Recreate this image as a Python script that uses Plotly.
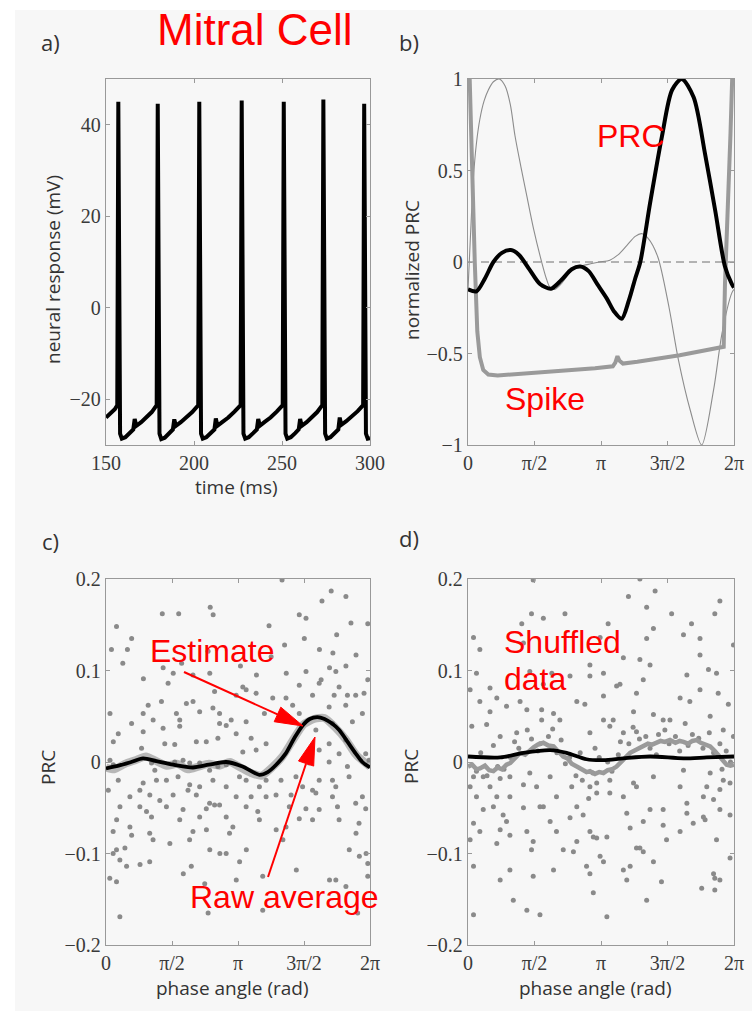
import math
import plotly.graph_objects as go

W, H = 752, 1011
PI = math.pi

# ---------------- Panel a: membrane potential trace ----------------
a_time = [150.0, 152.5, 155.0, 156.4,
          157.0, 158.0, 159.0, 161.0, 163.5, 165.5, 166.3, 167.2, 170.0, 173.0, 176.0, 178.8,
          179.4, 180.4, 181.4, 183.4, 185.9, 188.0, 188.8, 189.7, 192.5, 195.5, 199.0, 202.4,
          203.0, 204.0, 205.0, 207.0, 209.5, 211.6, 212.4, 213.3, 216.0, 219.5, 223.0, 226.5,
          227.1, 228.1, 229.1, 231.1, 233.6, 235.7, 236.5, 237.4, 240.0, 243.5, 247.0, 250.4,
          251.0, 252.0, 253.0, 255.0, 257.5, 259.5, 260.3, 261.2, 264.0, 267.0, 270.0, 272.9,
          273.5, 274.5, 275.5, 277.5, 280.0, 282.0, 282.8, 283.7, 286.5, 289.5, 293.0, 296.1,
          296.7, 297.7, 298.7, 300.0]
a_volt = [-24.0, -23.2, -22.2, -21.3,
          45.0, -27.5, -28.6, -28.3, -27.4, -26.6, -24.3, -25.8, -25.0, -24.0, -22.8, -21.3,
          44.6, -27.5, -28.7, -28.4, -27.5, -26.6, -24.4, -25.8, -25.0, -24.0, -22.8, -21.3,
          45.0, -27.5, -28.6, -28.3, -27.4, -26.6, -24.2, -25.8, -25.0, -24.0, -22.7, -21.3,
          45.3, -27.5, -28.6, -28.3, -27.4, -26.6, -24.3, -25.8, -25.0, -24.0, -22.7, -21.3,
          45.0, -27.5, -28.6, -28.3, -27.4, -26.6, -24.3, -25.8, -25.0, -24.0, -22.8, -21.3,
          45.5, -27.5, -28.6, -28.3, -27.4, -26.6, -24.0, -25.6, -24.8, -23.8, -22.6, -21.3,
          44.6, -27.5, -28.6, -28.5]

# ---------------- Panel b: normalized PRC / spike ----------------
b_prc_phase = [0.0, 0.2, 0.4, 0.6, 0.8, 1.01, 1.2, 1.45, 1.7, 1.96, 2.2, 2.45, 2.65, 2.85, 3.05,
               3.28, 3.45, 3.63, 3.8, 3.95, 4.07, 4.3, 4.58, 4.82, 5.05, 5.33, 5.6, 5.84, 6.07,
               6.23, 6.283]
b_prc = [-0.15, -0.16, -0.09, 0.0, 0.05, 0.065, 0.04, -0.04, -0.12, -0.146, -0.1, -0.04, -0.025,
         -0.05, -0.12, -0.2, -0.27, -0.31, -0.21, -0.09, 0.0, 0.32, 0.685, 0.94, 1.0, 0.9, 0.59,
         0.28, -0.025, -0.12, -0.14]

b_thin_phase = [0.0, 0.06, 0.125, 0.2, 0.28, 0.38, 0.48, 0.6, 0.74, 0.88, 1.0, 1.11, 1.25, 1.39,
                1.55, 1.74, 1.85, 1.94, 2.05, 2.2, 2.4, 2.55, 2.7, 2.9, 3.1, 3.35, 3.55, 3.75,
                3.95, 4.1, 4.25, 4.48, 4.75, 4.97, 5.25, 5.52, 5.8, 6.0, 6.23, 6.283]
b_thin = [-0.15, 0.15, 0.45, 0.65, 0.78, 0.88, 0.94, 0.985, 1.0, 0.96, 0.86, 0.69, 0.52, 0.36,
          0.18, 0.0, -0.09, -0.14, -0.15, -0.12, -0.06, -0.03, -0.02, -0.01, 0.0, 0.01, 0.04,
          0.09, 0.14, 0.155, 0.13, 0.03, -0.25, -0.535, -0.81, -1.0, -0.70, -0.39, -0.17, -0.15]

b_spike_phase = [0.04, 0.1, 0.16, 0.22, 0.28, 0.36, 0.48, 0.7, 1.0, 2.0, 3.0, 3.42, 3.48, 3.53,
                 3.58, 3.66, 4.0, 5.0, 6.04, 6.07, 6.11, 6.2, 6.24]
b_spike = [1.0, 0.45, 0.0, -0.38, -0.52, -0.59, -0.615, -0.62, -0.615, -0.6, -0.58, -0.57, -0.55,
           -0.515, -0.54, -0.555, -0.545, -0.51, -0.463, -0.12, 0.1, 0.7, 1.0]

# ---------------- Panel c: PRC estimate from data ----------------
c_points = [
    # upper points
    (4.19, 0.199), (5.36, 0.187), (5.71, 0.181), (5.14, 0.176), (2.48, 0.169), (1.34, 0.162),
    (1.73, 0.162), (2.55, 0.161), (4.60, 0.161), (4.76, 0.157), (0.25, 0.148), (5.83, 0.152),
    (6.23, 0.151), (3.88, 0.149), (0.61, 0.135), (5.49, 0.139), (4.72, 0.135), (0.13, 0.123),
    (0.51, 0.123), (2.43, 0.121), (4.25, 0.128), (5.08, 0.123), (3.93, 0.115), (5.40, 0.119),
    (5.95, 0.117), (0.40, 0.108), (1.80, 0.108), (1.36, 0.103), (3.20, 0.105), (5.71, 0.105),
    (5.32, 0.103), (5.47, 0.099), (4.76, 0.099), (4.29, 0.097), (1.60, 0.097), (2.07, 0.095),
    (2.47, 0.097), (3.58, 0.095), (5.12, 0.090), (0.89, 0.091), (6.23, 0.090),
    # central band
    (1.478, 0.086), (3.256, 0.082), (4.600, 0.084), (5.074, 0.086), (5.548, 0.082), (5.943, 0.073),
    (6.141, 0.075), (2.584, 0.077), (3.098, 0.073), (3.335, 0.079), (3.572, 0.075), (3.968, 0.070),
    (4.284, 0.070), (4.916, 0.073), (5.430, 0.073), (5.746, 0.073), (2.071, 0.066), (1.004, 0.062),
    (1.320, 0.066), (1.913, 0.064), (1.676, 0.053), (2.545, 0.059), (2.703, 0.053), (2.229, 0.055),
    (2.980, 0.046), (0.885, 0.053), (0.095, 0.053), (0.609, 0.042), (1.122, 0.046), (3.770, 0.053),
    (4.442, 0.062), (5.311, 0.060), (5.706, 0.062), (6.102, 0.053), (4.600, 0.053), (1.755, 0.046),
    (1.755, 0.039), (2.703, 0.042), (2.861, 0.040), (3.335, 0.044), (3.098, 0.031), (0.885, 0.033),
    (1.359, 0.037), (0.292, 0.031), (5.390, 0.042), (5.864, 0.044), (4.995, 0.035), (0.174, 0.022),
    (1.399, 0.020), (1.636, 0.019), (2.150, 0.022), (2.387, 0.022), (2.663, 0.026), (3.454, 0.026),
    (3.810, 0.020), (3.256, 0.011), (3.572, 0.013), (0.846, 0.015), (5.311, 0.020), (5.706, 0.024),
    (5.074, 0.013), (5.548, 0.009), (6.181, 0.009), (0.095, 0.002), (0.174, -0.003), (1.083, -0.001),
    (1.162, -0.009), (1.636, 0.000), (1.834, 0.002), (1.992, -0.001), (2.229, -0.001), (2.466, -0.009),
    (2.663, -0.005), (2.861, -0.003), (4.837, -0.001), (5.311, 0.000), (5.746, -0.005), (6.260, 0.002),
    (0.292, -0.020), (0.885, -0.023), (1.201, -0.020), (1.438, -0.020), (1.715, -0.016), (1.992, -0.025),
    (2.229, -0.027), (2.545, -0.020), (3.177, -0.016), (3.335, -0.020), (3.810, -0.020), (4.165, -0.020),
    (4.521, -0.016), (5.074, -0.020), (5.390, -0.020), (5.785, -0.016), (0.055, -0.031), (0.806, -0.031),
    (1.952, -0.031), (2.861, -0.027), (3.651, -0.027), (4.679, -0.027), (4.916, -0.031), (5.469, -0.027),
    (0.569, -0.038), (1.043, -0.036), (1.280, -0.042), (1.597, -0.036), (2.150, -0.036), (2.466, -0.045),
    (2.703, -0.047), (3.098, -0.038), (3.454, -0.038), (3.810, -0.038), (4.047, -0.036), (4.405, -0.036),
    (4.995, -0.034), (5.390, -0.038), (6.102, -0.038), (0.332, -0.049), (0.806, -0.049), (0.964, -0.054),
    (1.438, -0.049), (1.834, -0.052), (2.387, -0.051), (2.584, -0.047), (3.335, -0.049), (3.612, -0.054),
    (4.363, -0.049), (4.758, -0.051), (5.074, -0.052), (5.509, -0.049), (5.943, -0.045), (6.181, -0.051),
    (0.253, -0.063), (1.083, -0.060), (1.755, -0.063), (2.229, -0.060), (2.861, -0.060), (3.651, -0.063),
    (4.284, -0.071), (4.600, -0.062), (4.916, -0.063), (5.548, -0.063), (6.022, -0.067), (0.569, -0.071),
    (3.019, -0.071),
    # lower points
    (0.17, -0.076), (0.61, -0.080), (1.04, -0.078), (2.07, -0.076), (2.39, -0.074), (2.94, -0.078),
    (4.05, -0.074), (5.95, -0.078), (0.25, -0.096), (0.45, -0.094), (1.12, -0.085), (1.52, -0.089),
    (1.99, -0.085), (2.47, -0.096), (2.71, -0.100), (3.34, -0.096), (4.21, -0.085), (5.79, -0.096),
    (6.19, -0.100), (0.17, -0.100), (0.33, -0.107), (0.49, -0.114), (0.81, -0.112), (1.04, -0.109),
    (3.18, -0.109), (2.86, -0.100), (6.03, -0.103), (6.23, -0.111), (0.09, -0.127), (0.25, -0.131),
    (1.84, -0.122), (2.03, -0.114), (2.35, -0.133), (3.10, -0.129), (3.73, -0.125), (4.53, -0.118),
    (5.32, -0.129), (5.47, -0.129), (5.71, -0.136), (6.23, -0.125), (0.33, -0.169), (2.43, -0.165),
    (3.73, -0.162), (5.99, -0.165),
]
c_phase = [p[0] for p in c_points]
c_value = [p[1] for p in c_points]

c_est_phase = [0.0, 0.3, 0.6, 0.88, 1.2, 1.6, 2.07, 2.45, 2.86, 3.25, 3.65, 3.85, 4.05, 4.28,
               4.48, 4.68, 4.85, 5.03, 5.2, 5.38, 5.55, 5.75, 5.94, 6.1, 6.283]
c_est = [-0.007, -0.004, 0.0, 0.004, 0.001, -0.003, -0.006, -0.003, 0.0, -0.005, -0.014, -0.011,
         -0.003, 0.0095, 0.026, 0.040, 0.047, 0.049, 0.047, 0.042, 0.035, 0.022, 0.0095, 0.0, -0.006]
c_raw_phase = [0.0, 0.2, 0.45, 0.7, 0.95, 1.2, 1.45, 1.7, 1.95, 2.2, 2.45, 2.7, 2.95, 3.2, 3.45,
               3.7, 3.95, 4.2, 4.45, 4.7, 4.95, 5.2, 5.45, 5.7, 5.95, 6.283]
c_raw = [-0.006, -0.008, -0.002, 0.002, 0.006, 0.001, -0.004, -0.002, -0.008, -0.005, -0.002,
         -0.004, 0.0, -0.006, -0.012, -0.015, -0.006, 0.006, 0.024, 0.041, 0.047, 0.048, 0.038,
         0.025, 0.008, -0.005]

# ---------------- Panel d: shuffled data ----------------
d_points = [
    (1.54, 0.199), (4.06, 0.200), (3.79, 0.181), (4.42, 0.187), (5.95, 0.176), (4.22, 0.169),
    (5.83, 0.162), (1.50, 0.162), (1.78, 0.157), (2.29, 0.162), (4.81, 0.162), (3.31, 0.151),
    (1.27, 0.151), (5.28, 0.151), (0.13, 0.136), (0.28, 0.123), (4.38, 0.146), (5.09, 0.139),
    (5.48, 0.135), (6.27, 0.128), (4.22, 0.135), (3.12, 0.136), (1.31, 0.130), (5.48, 0.117),
    (3.67, 0.114), (4.06, 0.112), (4.30, 0.106), (2.88, 0.106), (3.20, 0.097), (0.20, 0.097),
    (1.46, 0.099), (1.98, 0.097), (2.41, 0.094), (2.88, 0.094), (4.14, 0.090), (5.17, 0.095),
    (5.68, 0.101), (5.87, 0.097), (0.05, 0.079), (0.52, 0.081), (0.28, 0.066), (0.68, 0.070),
    (1.23, 0.066), (1.78, 0.085), (3.59, 0.085), (2.57, 0.066), (2.76, 0.063), (3.20, 0.072),
    (3.51, 0.083), (3.98, 0.075), (5.01, 0.070), (5.24, 0.066), (5.48, 0.079), (5.91, 0.075),
    (6.15, 0.063), (0.52, 0.055), (0.91, 0.061), (1.39, 0.057), (1.74, 0.057), (2.02, 0.053),
    (2.17, 0.046), (1.74, 0.046), (3.20, 0.046), (3.43, 0.046), (3.91, 0.055), (4.38, 0.052),
    (4.61, 0.046), (4.77, 0.046), (5.13, 0.042), (5.72, 0.050), (6.03, 0.035), (0.09, 0.039),
    (0.44, 0.041), (0.76, 0.028), (1.15, 0.032), (2.88, 0.032), (3.35, 0.039), (3.67, 0.032),
    (3.98, 0.033), (6.27, 0.028),
    (0.13, -0.016), (0.36, -0.016), (0.76, -0.018), (0.99, -0.016), (1.46, -0.012), (1.94, -0.016),
    (3.04, -0.023), (3.35, -0.020), (3.91, -0.023), (4.38, -0.016), (5.09, -0.009), (5.72, -0.012),
    (6.03, -0.020), (6.19, -0.023), (0.05, -0.027), (0.52, -0.027), (1.31, -0.025), (1.62, -0.027),
    (2.45, -0.027), (2.88, -0.027), (3.98, -0.027), (5.01, -0.027), (5.64, -0.027), (5.95, -0.030),
    (0.20, -0.038), (0.68, -0.038), (0.99, -0.038), (1.70, -0.049), (2.09, -0.038), (2.57, -0.049),
    (3.04, -0.034), (3.35, -0.034), (3.67, -0.038), (4.30, -0.052), (4.61, -0.052), (5.17, -0.045),
    (5.56, -0.038), (5.80, -0.041), (0.36, -0.052), (0.60, -0.049), (0.83, -0.058), (1.31, -0.050),
    (1.78, -0.049), (2.41, -0.061), (2.72, -0.058), (3.75, -0.056), (5.17, -0.056), (5.56, -0.060),
    (5.95, -0.052), (6.19, -0.058), (0.13, -0.067), (0.28, -0.076), (0.76, -0.074), (0.91, -0.065),
    (1.39, -0.076), (1.94, -0.065), (2.09, -0.076), (2.88, -0.076), (3.04, -0.083), (3.28, -0.082),
    (3.83, -0.072), (4.14, -0.065), (4.61, -0.069), (5.01, -0.076), (5.32, -0.067), (5.60, -0.063),
    (0.05, -0.085), (0.68, -0.089), (0.99, -0.080), (1.54, -0.087), (2.57, -0.087), (2.96, -0.082),
    (3.98, -0.094), (4.69, -0.085), (5.87, -0.085), (1.50, -0.096), (2.25, -0.096), (2.49, -0.098),
    (2.80, -0.114), (3.12, -0.103), (3.20, -0.109), (3.67, -0.118), (3.83, -0.114), (4.06, -0.094),
    (4.14, -0.098), (4.38, -0.109), (6.19, -0.105), (0.13, -0.114), (0.76, -0.129), (0.99, -0.118),
    (1.54, -0.125), (2.02, -0.118), (2.88, -0.122), (3.75, -0.129), (4.57, -0.131), (5.52, -0.138),
    (5.80, -0.122), (5.83, -0.127), (5.95, -0.129), (5.83, -0.140), (0.13, -0.167), (1.07, -0.151),
    (1.39, -0.162), (1.70, -0.167), (2.96, -0.143), (3.28, -0.169), (4.22, -0.151),
    (0.20, -0.010), (0.45, -0.015), (0.70, -0.005), (1.00, 0.005), (1.20, 0.015), (1.50, 0.025),
    (1.70, 0.020), (1.90, 0.028), (2.10, 0.010), (2.30, -0.002), (2.55, -0.015), (2.70, -0.020),
    (2.95, -0.012), (3.10, 0.005), (3.30, 0.000), (3.55, 0.008), (3.80, 0.020), (4.05, 0.025),
    (4.30, 0.015), (4.50, 0.030), (4.75, 0.020), (5.00, 0.012), (5.30, 0.030), (5.55, 0.015),
    (5.80, 0.010), (6.00, -0.008), (6.20, 0.000),
    (0.30, 0.010), (0.60, 0.018), (0.85, -0.008), (1.10, 0.022), (1.40, 0.035), (1.65, 0.012),
    (2.00, 0.036), (2.20, 0.024), (2.40, 0.005), (2.65, 0.010), (2.85, -0.040), (3.00, 0.015),
    (3.40, -0.010), (3.60, 0.022), (3.90, 0.038), (4.20, 0.028), (4.45, 0.008), (4.65, 0.035),
    (4.90, 0.028), (5.20, 0.018), (5.45, 0.026), (5.70, 0.032), (5.95, 0.020), (6.10, 0.012),
]
d_phase = [p[0] for p in d_points]
d_value = [p[1] for p in d_points]

d_est_phase = [0.0, 0.76, 1.31, 1.94, 2.33, 2.8, 3.2, 3.67, 4.3, 5.09, 5.64, 6.283]
d_est = [0.006, 0.005, 0.010, 0.013, 0.010, 0.003, 0.002, 0.004, 0.006, 0.004, 0.005, 0.006]
d_raw_phase = [0.0, 0.1, 0.2, 0.28, 0.4, 0.5, 0.6, 0.7, 0.8, 0.91, 1.0, 1.1, 1.23, 1.35, 1.46,
               1.55, 1.65, 1.78, 1.9, 2.02, 2.12, 2.25, 2.35, 2.45, 2.57, 2.7, 2.8, 2.88, 3.0,
               3.1, 3.2, 3.3, 3.4, 3.51, 3.6, 3.7, 3.83, 3.95, 4.05, 4.14, 4.25, 4.35, 4.46,
               4.55, 4.65, 4.77, 4.9, 5.0, 5.09, 5.2, 5.3, 5.4, 5.5, 5.6, 5.72, 5.83, 5.95,
               6.03, 6.11, 6.2, 6.283]
d_raw = [-0.005, -0.003, -0.008, -0.007, -0.004, -0.009, -0.010, -0.006, -0.008, -0.003,
         -0.001, 0.004, 0.010, 0.008, 0.013, 0.016, 0.019, 0.021, 0.018, 0.017,
         0.012, 0.006, 0.004, -0.002, -0.005, -0.008, -0.011, -0.010, -0.013, -0.011,
         -0.012, -0.009, -0.008, -0.005, 0.0, 0.004, 0.010, 0.013, 0.016, 0.017,
         0.020, 0.019, 0.021, 0.023, 0.022, 0.024, 0.021, 0.023, 0.022, 0.020,
         0.023, 0.024, 0.021, 0.019, 0.017, 0.012, 0.006, 0.001, -0.003, -0.004, -0.003]

phase_ticks = [0, PI / 2, PI, 3 * PI / 2, 2 * PI]
phase_labels = ["0", "π/2", "π", "3π/2", "2π"]

# ---------------- figure ----------------
fig = go.Figure()

fig.add_trace(go.Scatter(x=a_time, y=a_volt, mode="lines", line=dict(color="#000", width=4),
                         xaxis="x", yaxis="y", hoverinfo="skip"))

fig.add_trace(go.Scatter(x=[0, 2 * PI], y=[0, 0], mode="lines",
                         line=dict(color="#6f6f6f", width=1, dash="8px,5px"),
                         xaxis="x2", yaxis="y2", hoverinfo="skip"))
fig.add_trace(go.Scatter(x=b_thin_phase, y=b_thin, mode="lines",
                         line=dict(color="#8c8c8c", width=1.1, shape="spline", smoothing=0.8),
                         xaxis="x2", yaxis="y2", hoverinfo="skip"))
fig.add_trace(go.Scatter(x=b_spike_phase, y=b_spike, mode="lines",
                         line=dict(color="#9a9a9a", width=4),
                         xaxis="x2", yaxis="y2", hoverinfo="skip"))
fig.add_trace(go.Scatter(x=b_prc_phase, y=b_prc, mode="lines",
                         line=dict(color="#000", width=4, shape="spline", smoothing=0.8),
                         xaxis="x2", yaxis="y2", hoverinfo="skip"))

fig.add_trace(go.Scatter(x=c_phase, y=c_value, mode="markers",
                         marker=dict(color="#8a8a8a", size=5, line=dict(width=0)),
                         xaxis="x3", yaxis="y3", hoverinfo="skip"))
fig.add_trace(go.Scatter(x=c_raw_phase, y=c_raw, mode="lines",
                         line=dict(color="rgba(120,120,120,0.5)", width=8, shape="spline", smoothing=0.6),
                         xaxis="x3", yaxis="y3", hoverinfo="skip"))
fig.add_trace(go.Scatter(x=c_est_phase, y=c_est, mode="lines",
                         line=dict(color="#000", width=3.8, shape="spline", smoothing=0.8),
                         xaxis="x3", yaxis="y3", hoverinfo="skip"))

fig.add_trace(go.Scatter(x=d_phase, y=d_value, mode="markers",
                         marker=dict(color="#8a8a8a", size=5, line=dict(width=0)),
                         xaxis="x4", yaxis="y4", hoverinfo="skip"))
fig.add_trace(go.Scatter(x=d_raw_phase, y=d_raw, mode="lines",
                         line=dict(color="#9a9a9a", width=4.5),
                         xaxis="x4", yaxis="y4", hoverinfo="skip"))
fig.add_trace(go.Scatter(x=d_est_phase, y=d_est, mode="lines",
                         line=dict(color="#000", width=3.8, shape="spline", smoothing=0.8),
                         xaxis="x4", yaxis="y4", hoverinfo="skip"))


def px(xp):
    return xp / W


def py(yp):
    return 1 - yp / H


SERIF = "Liberation Serif, Times New Roman, serif"
tickfont = dict(family=SERIF, size=20, color="#3a3a3a")
axis_common = dict(showline=True, linecolor="#999", linewidth=1.3, mirror="ticks",
                   ticks="inside", ticklen=4, tickcolor="#999", tickwidth=1,
                   showgrid=False, zeroline=False, tickfont=tickfont, fixedrange=True,
                   automargin=False)

left_dom = [px(106), px(370)]
right_dom = [px(468), px(734)]
top_dom = [py(445), py(79)]
bot_dom = [py(945), py(579)]

fig.update_layout(
    width=W, height=H, autosize=False, margin=dict(l=0, r=0, t=0, b=0, pad=0),
    font=dict(family=SERIF, size=20, color="#3a3a3a"),
    paper_bgcolor="#ffffff", plot_bgcolor="rgba(0,0,0,0)", showlegend=False,
    xaxis=dict(axis_common, domain=left_dom, range=[150, 300], tickvals=[150, 200, 250, 300],
               anchor="y"),
    yaxis=dict(axis_common, domain=top_dom, range=[-30, 50], tickvals=[-20, 0, 20, 40],
               anchor="x"),
    xaxis2=dict(axis_common, domain=right_dom, range=[0, 2 * PI], tickvals=phase_ticks,
                ticktext=phase_labels, anchor="y2"),
    yaxis2=dict(axis_common, domain=top_dom, range=[-1, 1], tickvals=[-1, -0.5, 0, 0.5, 1],
                anchor="x2"),
    xaxis3=dict(axis_common, domain=left_dom, range=[0, 2 * PI], tickvals=phase_ticks,
                ticktext=phase_labels, anchor="y3"),
    yaxis3=dict(axis_common, domain=bot_dom, range=[-0.2, 0.2], tickvals=[-0.2, -0.1, 0, 0.1, 0.2],
                anchor="x3"),
    xaxis4=dict(axis_common, domain=right_dom, range=[0, 2 * PI], tickvals=phase_ticks,
                ticktext=phase_labels, anchor="y4"),
    yaxis4=dict(axis_common, domain=bot_dom, range=[-0.2, 0.2], tickvals=[-0.2, -0.1, 0, 0.1, 0.2],
                anchor="x4"),
)

shapes = [dict(type="rect", xref="paper", yref="paper", x0=px(15), x1=1, y0=0, y1=py(10),
               fillcolor="#f7f7f7", line=dict(width=0), layer="below")]


def arrow(tail, tip, head_len=28, half_w=8, color="#ff0000"):
    dx, dy = tip[0] - tail[0], tip[1] - tail[1]
    L = math.hypot(dx, dy)
    ux, uy = dx / L, dy / L
    bx, by = tip[0] - ux * head_len, tip[1] - uy * head_len
    lx, ly = bx - uy * half_w, by + ux * half_w
    rx, ry = bx + uy * half_w, by - ux * half_w
    out = [dict(type="line", xref="paper", yref="paper", x0=px(tail[0]), y0=py(tail[1]),
                x1=px(bx), y1=py(by), line=dict(color=color, width=2))]
    path = "M {} {} L {} {} L {} {} Z".format(px(tip[0]), py(tip[1]), px(lx), py(ly), px(rx), py(ry))
    out.append(dict(type="path", xref="paper", yref="paper", path=path, fillcolor=color,
                    line=dict(color=color, width=1)))
    return out


shapes += arrow((184, 672), (303, 726))
shapes += arrow((268, 877), (315, 737))
fig.update_layout(shapes=shapes)

annotations = []


def txt(text, x, y, size, color="#333", family="Open Sans", angle=0, xanchor="center"):
    annotations.append(dict(text=text, x=px(x), y=py(y), xref="paper", yref="paper",
                            showarrow=False, xanchor=xanchor, yanchor="middle", textangle=angle,
                            font=dict(family=family, size=size, color=color)))


# panel letters
txt("a)", 50, 42, 22)
txt("b)", 409, 42, 22)
txt("c)", 50, 541, 22)
txt("d)", 409, 538, 22)

# axis titles
txt("neural response (mV)", 53, 270, 19, angle=-90)
txt("time (ms)", 236, 487, 19)
txt("normalized PRC", 412, 270, 19, angle=-90)
txt("PRC", 48, 767, 19, angle=-90)
txt("PRC", 411, 767, 19, angle=-90)
txt("phase angle (rad)", 232, 988, 19)
txt("phase angle (rad)", 595, 988, 19)

# red annotations
RED = "#ff0000"
txt("Mitral Cell", 255, 29, 44, color=RED, family="Liberation Sans")
txt("PRC", 631, 136, 32, color=RED, family="Liberation Sans")
txt("Spike", 545, 399, 32, color=RED, family="Liberation Sans")
txt("Estimate", 212, 651, 32, color=RED, family="Liberation Sans")
txt("Raw average", 284, 897, 32, color=RED, family="Liberation Sans")
txt("Shuffled", 502, 642, 32, color=RED, family="Liberation Sans", xanchor="left")
txt("data", 502, 679, 32, color=RED, family="Liberation Sans", xanchor="left")

fig.update_layout(annotations=annotations)

fig.write_html("out.html")
